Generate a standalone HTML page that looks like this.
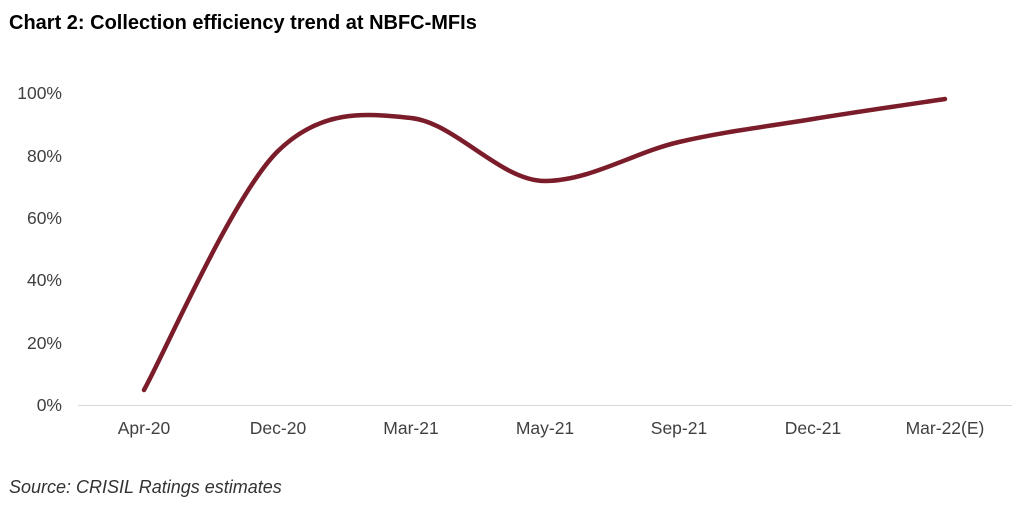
<!DOCTYPE html>
<html><head><meta charset="utf-8"><style>
html,body{margin:0;padding:0;background:#fff;}
svg{display:block;font-family:"Liberation Sans",Arial,sans-serif;}
</style></head><body>
<svg width="1031" height="511" viewBox="0 0 1031 511" xmlns="http://www.w3.org/2000/svg">
<text x="9" y="29" font-size="20" font-weight="bold" fill="#000">Chart 2: Collection efficiency trend at NBFC-MFIs</text>
<g font-size="17.5" fill="#404040" text-anchor="end">
<text x="62" y="99">100%</text>
<text x="62" y="162">80%</text>
<text x="62" y="224">60%</text>
<text x="62" y="286">40%</text>
<text x="62" y="349">20%</text>
<text x="62" y="411">0%</text>
</g>
<line x1="78" y1="405.5" x2="1012" y2="405.5" stroke="#d9d9d9" stroke-width="1"/>
<g font-size="17.5" fill="#404040" text-anchor="middle">
<text x="144" y="434">Apr-20</text>
<text x="278" y="434">Dec-20</text>
<text x="411" y="434">Mar-21</text>
<text x="545" y="434">May-21</text>
<text x="679" y="434">Sep-21</text>
<text x="813" y="434">Dec-21</text>
<text x="945" y="434">Mar-22(E)</text>
</g>
<path d="M144,390 C166,350 232.5,197 277,152 C321.5,108 366.3,113.5 411,118 C455.7,122.8 500.3,181 545,181 C589.7,181 634.3,152.3 679,142 C723.7,131.7 768.7,126.2 813,119 C857.3,111.8 923,102.3 945,99" fill="none" stroke="#7b1c2a" stroke-width="4.5" stroke-linecap="round"/>
<text x="9" y="493" font-size="18" font-style="italic" fill="#333">Source: CRISIL Ratings estimates</text>
</svg>
</body></html>
